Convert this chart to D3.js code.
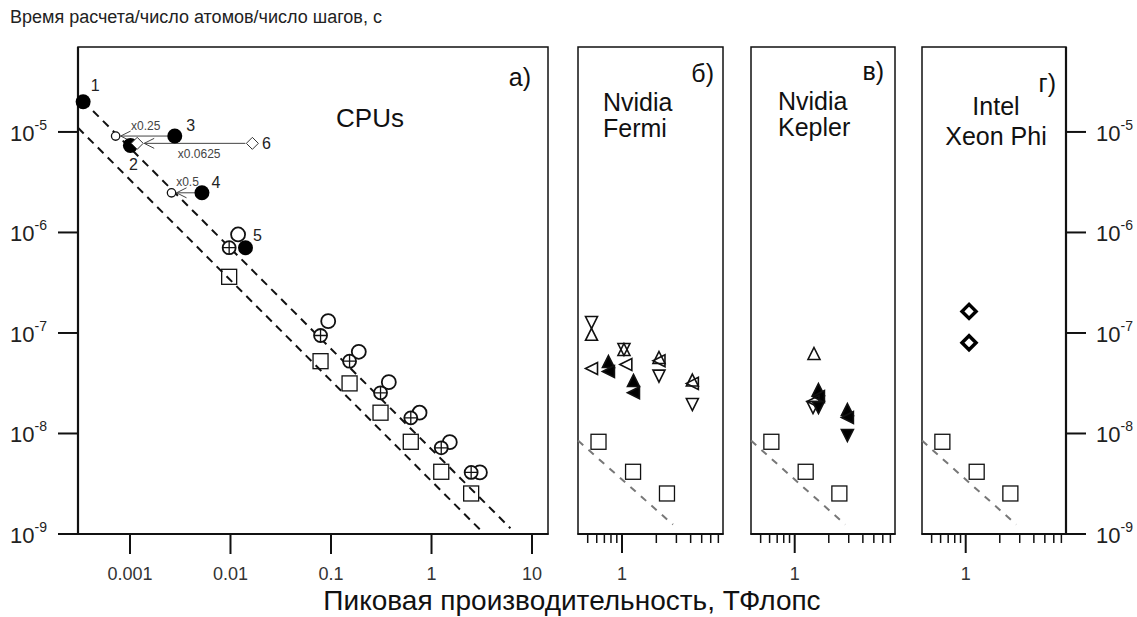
<!DOCTYPE html>
<html>
<head>
<meta charset="utf-8">
<script src="https://cdn.jsdelivr.net/npm/d3@7"></script>
<style>
  body { margin: 0; background: #fff; }
  svg { display: block; font-family: "Liberation Sans", Arial, sans-serif; }
</style>
</head>
<body>
<div id="chart"></div>
<script>
// ---- data ----
const yTicks = [1e-5, 1e-6, 1e-7, 1e-8, 1e-9];
const yTickExp = ["-5", "-6", "-7", "-8", "-9"];
const cpuXTicks = [0.001, 0.01, 0.1, 1, 10];
const cpuXTickLabels = ["0.001", "0.01", "0.1", "1", "10"];
const gpuMinorTicks = [0.5, 0.6, 0.7, 0.8, 0.9, 2, 3, 4, 5, 6, 7];

// numbered CPU points (filled circles)
const cpuNumbered = [
  { x: 3.42e-4, y: 2.0e-5, label: "1" },
  { x: 1.01e-3, y: 7.35e-6, label: "2" },
  { x: 2.79e-3, y: 9.1e-6, label: "3" },
  { x: 5.2e-3, y: 2.48e-6, label: "4" },
  { x: 0.0141, y: 7.05e-7, label: "5" }
];
// point 6 (open diamond)
const cpuSix = [{ x: 0.0165, y: 7.7e-6, label: "6" }];

// rescaled copies with arrows
const rescaled = [
  { fromX: 2.79e-3, toX: 7.2e-4, y: 9.1e-6, factor: "x0.25", shape: "circle" },
  { fromX: 0.0165, toX: 1.18e-3, y: 7.7e-6, factor: "x0.0625", shape: "diamond" },
  { fromX: 5.2e-3, toX: 2.59e-3, y: 2.48e-6, factor: "x0.5", shape: "circle" }
];

const cpuOpenCircles = [
  [0.0119, 9.55e-7], [0.0938, 1.31e-7], [0.189, 6.5e-8], [0.376, 3.24e-8],
  [0.76, 1.61e-8], [1.52, 8.2e-9], [3.03, 4.1e-9]
];
const cpuCrossCircles = [
  [0.0097, 7.05e-7], [0.0787, 9.44e-8], [0.153, 5.24e-8], [0.311, 2.54e-8],
  [0.622, 1.43e-8], [1.25, 7.2e-9], [2.48, 4.1e-9]
];
const cpuSquares = [
  [0.0097, 3.62e-7], [0.0787, 5.24e-8], [0.153, 3.15e-8], [0.311, 1.61e-8],
  [0.622, 8.27e-9], [1.25, 4.16e-9], [2.48, 2.53e-9]
];
const gpuSquares = [[0.622, 8.27e-9], [1.25, 4.16e-9], [2.48, 2.53e-9]];

// ideal-scaling dashed lines
const cpuLineUpper = [[3.42e-4, 2.03e-5], [6.1, 1.14e-9]];
const cpuLineLower = [[3.04e-4, 1.1e-5], [3.2, 1.05e-9]];
const gpuLine = [[0.411, 8.5e-9], [2.8, 1.24e-9]];

const fermiPoints = [
  { x: 0.54, y: 1.27e-7, m: "down" }, { x: 0.54, y: 9.7e-8, m: "up" },
  { x: 0.54, y: 4.43e-8, m: "left" },
  { x: 0.76, y: 5.2e-8, m: "upF" }, { x: 0.76, y: 4.14e-8, m: "leftF" },
  { x: 1.04, y: 6.85e-8, m: "down" }, { x: 1.04, y: 6.85e-8, m: "up" },
  { x: 1.08, y: 4.86e-8, m: "left" },
  { x: 1.26, y: 3.37e-8, m: "upF" }, { x: 1.26, y: 2.54e-8, m: "leftF" },
  { x: 2.11, y: 5.7e-8, m: "up" }, { x: 2.11, y: 5.3e-8, m: "left" },
  { x: 2.11, y: 3.72e-8, m: "down" },
  { x: 4.14, y: 3.4e-8, m: "up" }, { x: 4.14, y: 3.15e-8, m: "left" },
  { x: 4.14, y: 1.94e-8, m: "down" }
];
const keplerPoints = [
  { x: 1.48, y: 6.25e-8, m: "up" },
  { x: 1.62, y: 2.74e-8, m: "upF" }, { x: 1.62, y: 2.33e-8, m: "leftF" },
  { x: 1.45, y: 2.08e-8, m: "left" }, { x: 1.45, y: 1.81e-8, m: "down" },
  { x: 1.62, y: 1.81e-8, m: "downF" },
  { x: 2.92, y: 1.73e-8, m: "upF" }, { x: 2.92, y: 1.44e-8, m: "leftF" },
  { x: 2.92, y: 9.55e-9, m: "downF" }
];
const xeonPoints = [[1.07, 1.64e-7], [1.07, 7.98e-8]];

const panels = [
  { key: "a", tag: "а)", title: ["CPUs"] },
  { key: "b", tag: "б)", title: ["Nvidia", "Fermi"] },
  { key: "c", tag: "в)", title: ["Nvidia", "Kepler"] },
  { key: "d", tag: "г)", title: ["Intel", "Xeon Phi"] }
];

// ---- layout ----
const W = 1137, H = 617;
const plotTop = 47, plotBottom = 534;
const frames = {
  a: [78, 548], b: [578, 723], c: [751, 895], d: [922, 1066]
};
const ink = "#111";

const svg = d3.select("#chart").append("svg")
  .attr("width", W).attr("height", H);

const y = d3.scaleLog().domain([7.0e-5, 1e-9]).range([plotTop, plotBottom]);
const xs = {
  a: d3.scaleLog().domain([3.04e-4, 14.42]).range(frames.a),
  b: d3.scaleLog().domain([0.411, 7.69]).range(frames.b),
  c: d3.scaleLog().domain([0.411, 7.69]).range(frames.c),
  d: d3.scaleLog().domain([0.411, 7.69]).range(frames.d)
};

// marker shapes
function triPath(kind, s) {
  const h = s / 2;
  if (kind === "up") return `M0,${-h}L${h},${h}L${-h},${h}Z`;
  if (kind === "down") return `M0,${h}L${h},${-h}L${-h},${-h}Z`;
  return `M${-h},0L${h},${-h}L${h},${h}Z`; // left
}

// top-left axis caption
svg.append("text")
  .attr("x", 10).attr("y", 23)
  .style("font-size", "18px").style("fill", "#222")
  .text("Время расчета/число атомов/число шагов, с");

// frames
Object.entries(frames).forEach(([k, [x0, x1]]) => {
  svg.append("rect")
    .attr("x", x0).attr("y", plotTop)
    .attr("width", x1 - x0).attr("height", plotBottom - plotTop)
    .attr("fill", "none").attr("stroke", ink).attr("stroke-width", 1.5);
  svg.append("line")
    .attr("x1", x0 - 0.5).attr("x2", x1 + 0.5).attr("y1", plotBottom).attr("y2", plotBottom)
    .attr("stroke", ink).attr("stroke-width", 2);
});
svg.append("line").attr("x1", 78).attr("x2", 78).attr("y1", plotTop).attr("y2", plotBottom)
  .attr("stroke", ink).attr("stroke-width", 2.2);
svg.append("line").attr("x1", 1066).attr("x2", 1066).attr("y1", plotTop).attr("y2", plotBottom)
  .attr("stroke", ink).attr("stroke-width", 2.2);

// y axes (left on panel a, right on panel d)
function yLabel(g, x, exp, v) {
  const t = g.append("text")
    .attr("x", x).attr("y", y(v) + 9)
    .style("font-size", "22px").style("fill", "#222");
  t.append("tspan").text("10");
  t.append("tspan").attr("dy", -11).style("font-size", "14px").text(exp);
}
yTicks.forEach((v, i) => {
  svg.append("line").attr("x1", 58).attr("x2", 78).attr("y1", y(v)).attr("y2", y(v))
    .attr("stroke", ink).attr("stroke-width", 2);
  yLabel(svg, 10, yTickExp[i], v);
  svg.append("line").attr("x1", 1066).attr("x2", 1086).attr("y1", y(v)).attr("y2", y(v))
    .attr("stroke", ink).attr("stroke-width", 2);
  yLabel(svg, 1096, yTickExp[i], v);
});

// x axis panel a
cpuXTicks.forEach((v, i) => {
  const px = xs.a(v);
  svg.append("line").attr("x1", px).attr("x2", px).attr("y1", plotBottom).attr("y2", plotBottom + 20)
    .attr("stroke", ink).attr("stroke-width", 2);
  svg.append("text").attr("x", px).attr("y", 580)
    .attr("text-anchor", "middle").style("font-size", "18px").style("fill", "#333")
    .text(cpuXTickLabels[i]);
});
// x axes panels b-d
["b", "c", "d"].forEach(k => {
  const x = xs[k];
  gpuMinorTicks.forEach(v => {
    svg.append("line").attr("x1", x(v)).attr("x2", x(v)).attr("y1", plotBottom).attr("y2", plotBottom + 9)
      .attr("stroke", ink).attr("stroke-width", 1.5);
  });
  svg.append("line").attr("x1", x(1)).attr("x2", x(1)).attr("y1", plotBottom).attr("y2", plotBottom + 19)
    .attr("stroke", ink).attr("stroke-width", 2);
  svg.append("text").attr("x", x(1)).attr("y", 580)
    .attr("text-anchor", "middle").style("font-size", "18px").style("fill", "#333")
    .text("1");
});

// x axis title
svg.append("text").attr("x", 572).attr("y", 610)
  .attr("text-anchor", "middle").style("font-size", "28px").style("fill", "#111")
  .text("Пиковая производительность, ТФлопс");

// panel tags and titles
const tagPos = { a: [531, 86], b: [714, 82], c: [884, 80], d: [1056, 92] };
const titlePos = {
  a: { x: 370, y: 127, anchor: "middle" },
  b: { x: 603, y: 111, anchor: "start" },
  c: { x: 778, y: 110, anchor: "start" },
  d: { x: 996, y: 115, anchor: "middle" }
};
panels.forEach(p => {
  svg.append("text").attr("x", tagPos[p.key][0]).attr("y", tagPos[p.key][1])
    .attr("text-anchor", "end").style("font-size", "25px").style("fill", "#111")
    .text(p.tag);
  const tp = titlePos[p.key];
  p.title.forEach((ln, i) => {
    svg.append("text").attr("x", tp.x)
      .attr("y", tp.y + i * (p.key === "d" ? 30 : 26))
      .attr("text-anchor", tp.anchor).style("font-size", p.key === "a" ? "26px" : "25px")
      .style("fill", "#111").text(ln);
  });
});

const line = (xScale) => d3.line().x(d => xScale(d[0])).y(d => y(d[1]));

// panel a: dashed ideal lines
[cpuLineUpper, cpuLineLower].forEach(seg => {
  svg.append("path").attr("d", line(xs.a)(seg))
    .attr("fill", "none").attr("stroke", ink).attr("stroke-width", 2)
    .attr("stroke-dasharray", "8,6");
});
// panels b-d: grey dashed
["b", "c", "d"].forEach(k => {
  svg.append("path").attr("d", line(xs[k])(gpuLine))
    .attr("fill", "none").attr("stroke", "#777").attr("stroke-width", 2)
    .attr("stroke-dasharray", "7,7");
});

const ga = svg.append("g");

// squares
function squares(g, x, data) {
  g.selectAll(null).data(data).enter().append("rect")
    .attr("x", d => x(d[0]) - 7.5).attr("y", d => y(d[1]) - 7.5)
    .attr("width", 15).attr("height", 15)
    .attr("fill", "none").attr("stroke", "#111").attr("stroke-width", 1.3);
}
squares(ga, xs.a, cpuSquares);

// open circles, then cross circles on top
ga.selectAll(null).data(cpuOpenCircles).enter().append("circle")
  .attr("cx", d => xs.a(d[0])).attr("cy", d => y(d[1])).attr("r", 7)
  .attr("fill", "#fff").attr("stroke", ink).attr("stroke-width", 1.8);
const cc = ga.selectAll(null).data(cpuCrossCircles).enter().append("g")
  .attr("transform", d => `translate(${xs.a(d[0])},${y(d[1])})`);
cc.append("circle").attr("r", 6.5)
  .attr("fill", "#fff").attr("stroke", ink).attr("stroke-width", 1.8);
cc.append("path").attr("d", "M-6.5,0H6.5M0,-6.5V6.5")
  .attr("stroke", ink).attr("stroke-width", 1.3);

// arrows for rescaled points
rescaled.forEach(r => {
  const x0 = xs.a(r.fromX), x1 = xs.a(r.toX), py = y(r.y);
  const tip = x1 + (r.shape === "circle" ? 5 : 7);
  ga.append("path")
    .attr("d", `M${x0 - 7},${py}H${tip}M${tip + 10},${py - 5}L${tip},${py}L${tip + 10},${py + 5}`)
    .attr("fill", "none").attr("stroke", "#444").attr("stroke-width", 1);
});

// filled numbered circles
ga.selectAll(null).data(cpuNumbered).enter().append("circle")
  .attr("cx", d => xs.a(d.x)).attr("cy", d => y(d.y)).attr("r", 7.5)
  .attr("fill", "#000");

// rescaled small markers
rescaled.forEach(r => {
  const px = xs.a(r.toX), py = y(r.y);
  if (r.shape === "circle") {
    ga.append("circle").attr("cx", px).attr("cy", py).attr("r", 4.2)
      .attr("fill", "#fff").attr("stroke", ink).attr("stroke-width", 1.3);
  } else {
    ga.append("path").attr("d", `M${px - 6},${py}L${px},${py - 6}L${px + 6},${py}L${px},${py + 6}Z`)
      .attr("fill", "#fff").attr("stroke", "#333").attr("stroke-width", 1);
  }
});
// point 6 diamond
cpuSix.forEach(d => {
  const px = xs.a(d.x), py = y(d.y);
  ga.append("path").attr("d", `M${px - 6},${py}L${px},${py - 6}L${px + 6},${py}L${px},${py + 6}Z`)
    .attr("fill", "#fff").attr("stroke", "#333").attr("stroke-width", 1);
});

// labels for numbered points
const numOffset = { "1": [12, -17], "2": [3, 19], "3": [16, -11], "4": [14, -11], "5": [12, -13], "6": [14, 0] };
cpuNumbered.concat(cpuSix).forEach(d => {
  const o = numOffset[d.label];
  ga.append("text").attr("x", xs.a(d.x) + o[0]).attr("y", y(d.y) + o[1] + 6)
    .attr("text-anchor", "middle").style("font-size", "16px").style("fill", "#222")
    .text(d.label);
});
const factorOffset = { "x0.25": [30, -10], "x0.0625": [62, 11], "x0.5": [16, -11] };
rescaled.forEach(r => {
  const o = factorOffset[r.factor];
  ga.append("text").attr("x", xs.a(r.toX) + o[0]).attr("y", y(r.y) + o[1] + 4)
    .attr("text-anchor", "middle").style("font-size", "12px").style("fill", "#444")
    .text(r.factor);
});

// GPU / Phi panels
["b", "c", "d"].forEach(k => squares(svg, xs[k], gpuSquares));

function triangles(k, data) {
  svg.selectAll(null).data(data).enter().append("path")
    .attr("transform", d => `translate(${xs[k](d.x)},${y(d.y)})`)
    .attr("d", d => triPath(d.m.replace("F", ""), 12))
    .attr("fill", d => d.m.endsWith("F") ? "#000" : "#fff")
    .attr("fill-opacity", d => d.m.endsWith("F") ? 1 : 0)
    .attr("stroke", ink).attr("stroke-width", 1.6);
}
triangles("b", fermiPoints);
triangles("c", keplerPoints);

svg.selectAll(null).data(xeonPoints).enter().append("path")
  .attr("transform", d => `translate(${xs.d(d[0])},${y(d[1])})`)
  .attr("d", "M-7,0L0,-7L7,0L0,7Z")
  .attr("fill", "#fff").attr("stroke", "#000").attr("stroke-width", 3.5);
</script>
</body>
</html>
